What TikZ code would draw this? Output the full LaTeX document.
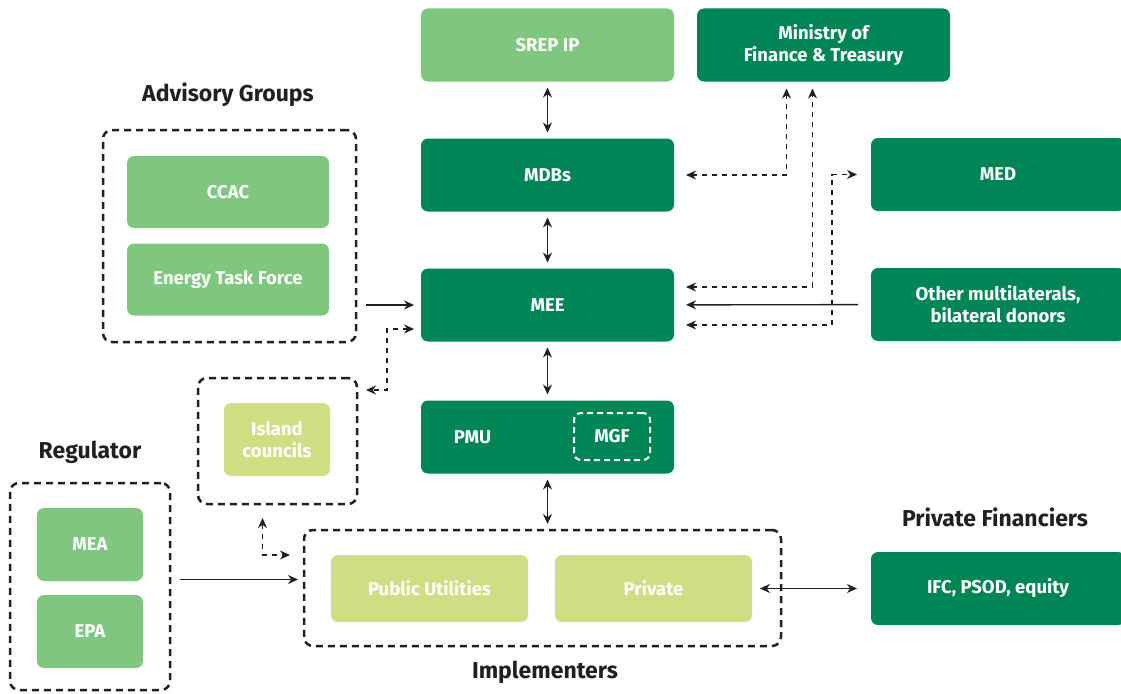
\documentclass[tikz,border=0pt]{standalone}
\usepackage{fontspec}
\setmainfont{Fira Sans}[BoldFont={Fira Sans Bold}]
\usetikzlibrary{arrows.meta, positioning}

\definecolor{darkgreen}{HTML}{008556}
\definecolor{midgreen}{HTML}{7FC77F}
\definecolor{limegreen}{HTML}{CDDF82}
\definecolor{inkgray}{HTML}{231F20}

\begin{document}
\begin{tikzpicture}[x=1pt,y=-1pt,>={Stealth[length=10pt,width=9pt]},
	font=\bfseries\fontsize{18.5}{22}\selectfont]
	\tikzset{box/.style={rounded corners=7pt, text=white, align=center, inner sep=0pt, outer sep=0pt,
			minimum width=253pt, minimum height=73pt},
		darkbox/.style={box, fill=darkgreen},
		midbox/.style={box, fill=midgreen},
		litebox/.style={box, fill=limegreen},
		grpbox/.style={draw=inkgray, line width=2.5pt, dash pattern=on 7pt off 5pt,
			rounded corners=9pt, inner sep=0pt, outer sep=0pt},
		mgfbox/.style={draw=white, line width=2pt, dash pattern=on 6pt off 4pt, rounded corners=7pt,
			text=white, inner sep=0pt, minimum width=76pt, minimum height=47pt},
		title/.style={text=inkgray, font=\bfseries\fontsize{23}{26}\selectfont},
		link/.style={draw=inkgray, line width=1.4pt},
		dlink/.style={link, dash pattern=on 5pt off 5pt}}
	\useasboundingbox (0,0) rectangle (1121,693);

	% centre column
	\node[midbox] (srep) at (547.5,45) {SREP IP};
	\node[darkbox] (mof) at (823.5,45) {Ministry of\\Finance \& Treasury};
	\node[darkbox, below=57pt of srep] (mdbs) {MDBs};
	\node[darkbox, below=57pt of mdbs] (mee) {MEE};
	\node[darkbox, below=59pt of mee] (pmu) {};
	\node[text=white] (pmutext) at ([xshift=-75pt]pmu.center) {PMU};
	\node[mgfbox] (mgf) at (612,436.5) {MGF};

	% right column
	\node[darkbox, minimum width=254pt] (med) at (998,174.5) {MED};
	\node[darkbox, minimum width=254pt] (other) at (998,304.5) {Other multilaterals,\\bilateral donors};
	\node[darkbox, minimum width=254pt] (ifc) at (998,588.5) {IFC, PSOD, equity};
	\node[title] (pftitle) at (995,517) {Private Financiers};

	% advisory groups
	\node[title] (advtitle) at (228,95) {Advisory Groups};
	\node[grpbox, minimum width=253pt, minimum height=212pt] (advgrp) at (229.5,236) {};
	\node[midbox, minimum width=202pt, minimum height=72pt] (ccac) at (228,192) {CCAC};
	\node[midbox, minimum width=202pt, minimum height=72pt] (etf) at (228,279.5) {Energy Task Force};

	% island councils
	\node[grpbox, minimum width=159pt, minimum height=126pt] (islgrp) at (277.5,441) {};
	\node[litebox, minimum width=106pt] (isl) at (277,439.5) {Island\\councils};

	% regulator
	\node[title] (regtitle) at (90,452) {Regulator};
	\node[grpbox, minimum width=160pt, minimum height=207pt] (reggrp) at (90,586.5) {};
	\node[midbox, minimum width=106pt] (mea) at (90,544.5) {MEA};
	\node[midbox, minimum width=106pt] (epa) at (90,631.5) {EPA};

	% implementers
	\node[grpbox, minimum width=477pt, minimum height=116pt] (impl) at (542.5,588) {};
	\node[litebox, minimum width=197pt, minimum height=67pt] (util) at (429.5,588.5) {Public Utilities};
	\node[litebox, minimum width=197pt, minimum height=67pt] (priv) at (653.5,588.5) {Private};
	\node[title] (impltitle) at (545,672) {Implementers};

	% connectors
	\draw[link, <->, shorten <=6pt, shorten >=6pt] (srep) -- (mdbs);
	\draw[link, <->, shorten <=6pt, shorten >=6pt] (mdbs) -- (mee);
	\draw[link, <->, shorten <=6pt, shorten >=6pt] (mee) -- (pmu);
	\draw[link, <->, shorten <=6pt, shorten >=6pt] (pmu.south) -- (pmu.south |- impl.north);
	\draw[link, <->, shorten <=8pt, shorten >=14pt] (priv) -- (ifc);
	\draw[link, ->, shorten <=13pt, shorten >=12pt] (other) -- (mee);
	\draw[link, ->, shorten <=10pt, shorten >=7pt] (advgrp.east |- mee.west) -- (mee.west);
	\draw[link, ->, shorten <=10pt, shorten >=6pt] ([yshift=7pt]reggrp.east) -- ([yshift=7pt]reggrp.east -| impl.west);

	\draw[dlink, <->, shorten <=12pt, shorten >=7pt] (mdbs.east) -| ([xshift=-37pt]mof.south);
	\draw[dlink, <->, shorten <=12pt, shorten >=7pt] ([yshift=18pt]mee.east) -| ([xshift=-11pt]mof.south);
	\draw[dlink, <->, shorten <=12pt, shorten >=14pt] ([yshift=-20pt]mee.east) -| ([xshift=-39pt]med.west) -- (med.west);
	\draw[dlink, <->, shorten <=7pt, shorten >=9pt] ([yshift=-24pt]mee.west) -| (387,390) -- ([yshift=-12pt]islgrp.north east);
	\draw[dlink, <->, shorten <=14pt, shorten >=14pt] ([xshift=-15pt]islgrp.south) |- ([yshift=33pt]impl.west);
\end{tikzpicture}
\end{document}
